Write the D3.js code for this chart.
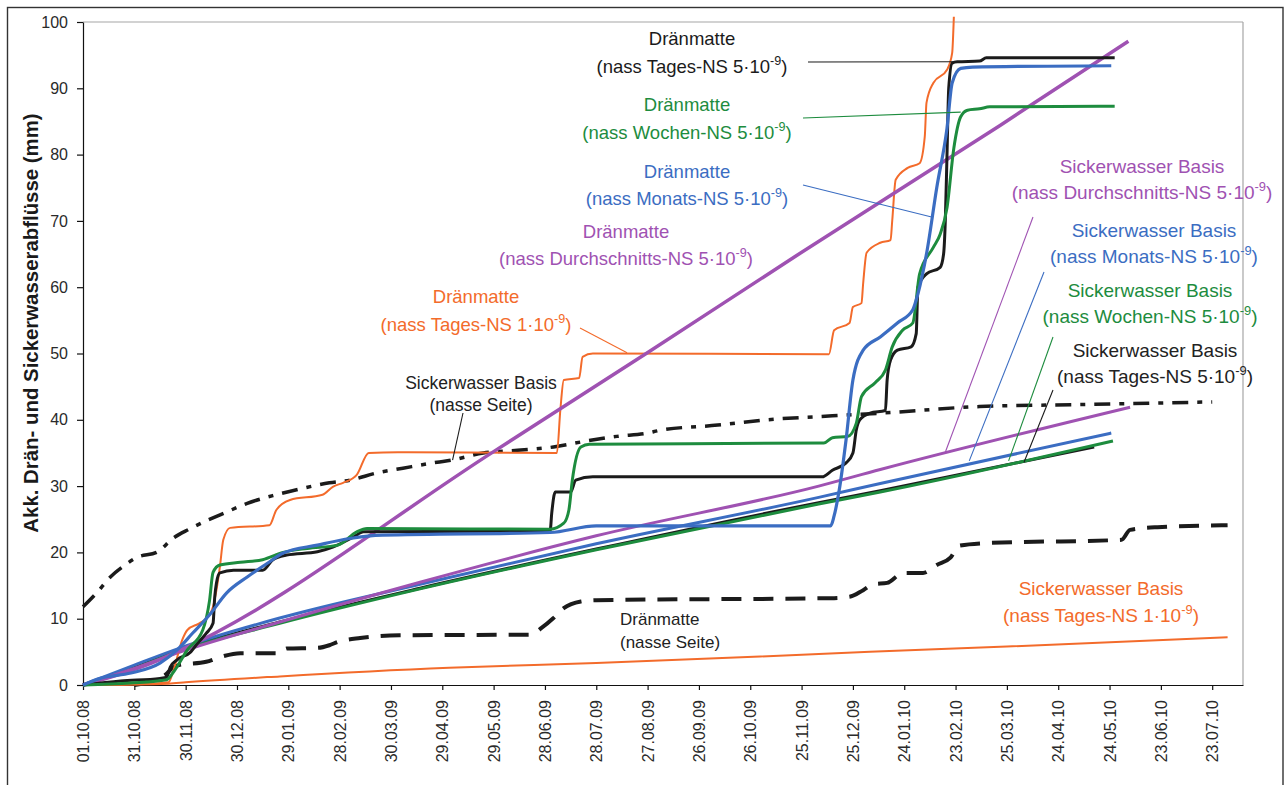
<!DOCTYPE html>
<html>
<head>
<meta charset="utf-8">
<script src="https://cdn.jsdelivr.net/npm/d3@7"></script>
<style>
  body { margin: 0; background: #fff; }
  svg { display: block; font-family: Arial, "Liberation Sans", sans-serif; }
</style>
</head>
<body>
<svg id="chart" width="1287" height="785"></svg>
<script>
// Axis definitions
const startDate = new Date(Date.UTC(2008, 9, 1));
const axisEndDay = 678;
const tickDays = d3.range(0, 661, 30);          // 01.10.08 ... 23.07.10
const yTicks = d3.range(0, 101, 10);
const yTitle = "Akk. Drän- und Sickerwasserabflüsse (mm)";

// Cumulative runoff, [days since 01.10.08, mm]
// Dränmatte (nass Tages-NS 5e-9)
const dmTages5 = [[0,0],[22,0.6],[45,1.0],[49,1.2],[51,2.7],[55,3.8],[63,5.0],[67,6.3],[72,7.8],[76,9.3],[77,13.3],[78,15.4],[80,16.9],[88,17.3],[105,17.3],[111,18.9],[119,19.6],[137,20.1],[146,20.8],[158,22.3],[164,23.1],[273,23.2],[274,26.0],[276,29.1],[285,29.1],[288,30.9],[298,31.4],[432,31.4],[438,32.4],[446,33.5],[450,35.0],[452,38.5],[454,40.0],[460,41.0],[469,41.4],[470,46.0],[472,49.0],[476,50.5],[484,51.0],[487,53.0],[488,60.0],[493,62.0],[501,63.0],[503,65.0],[504,70.0],[505,80.0],[506,90.0],[508,93.8],[511,94.0],[524,94.1],[528,94.6],[603,94.6]];
// Dränmatte (nass Wochen-NS 5e-9)
const dmWochen5 = [[0,0],[28,0.3],[49,0.8],[53,2.0],[61,5.3],[70,8.3],[74,12.8],[76,17.0],[80,18.1],[92,18.5],[105,18.9],[117,20.0],[131,20.6],[149,21.1],[160,23.1],[166,23.6],[273,23.5],[281,24.4],[284,26.4],[286,30.9],[291,35.9],[296,36.3],[433,36.5],[438,37.3],[447,37.5],[452,39.5],[455,43.5],[463,45.6],[469,47.5],[473,51.0],[479,53.5],[485,54.6],[489,62.0],[497,66.0],[501,68.0],[505,72.0],[509,81.0],[513,85.7],[517,86.7],[524,86.9],[530,87.2],[603,87.3]];
// Dränmatte (nass Monats-NS 5e-9)
const dmMonats5 = [[0,0],[10,1.0],[28,1.8],[45,3.3],[55,5.3],[64,7.8],[74,10.6],[84,13.9],[96,16.3],[108,18.4],[117,19.9],[137,21.1],[156,22.1],[175,22.6],[273,23.0],[300,24.0],[437,24.0],[439,25.5],[442,29.4],[446,37.0],[450,46.0],[456,50.5],[466,52.5],[476,54.6],[485,56.6],[488,59.0],[493,65.0],[499,75.0],[505,84.0],[508,90.8],[513,93.0],[520,93.2],[601,93.4]];
// Dränmatte (nass Durchschnitts-NS 5e-9)
const dmDurch5 = [[0,0],[20,1.5],[40,3.3],[55,5.0],[240,35.2],[331,50.3],[416,64.6],[536,84.4],[611,97.1]];
// Dränmatte (nass Tages-NS 1e-9)
const dmTages1 = [[0,0],[30,0.1],[50,0.4],[53,2.3],[58,6.8],[61,8.3],[68,9.3],[73,10.3],[76,11.8],[78,14.3],[80,17.8],[82,21.9],[86,23.7],[109,24.1],[113,26.4],[121,27.9],[140,28.7],[146,29.9],[152,30.5],[160,31.7],[167,35.0],[184,35.1],[277,35.0],[279,41.5],[281,46.0],[290,46.3],[292,49.5],[298,50.0],[436,49.9],[439,53.5],[448,54.6],[450,57.0],[455,57.6],[456,60.6],[458,65.2],[466,66.7],[472,67.1],[473,70.1],[475,76.2],[482,78.0],[489,78.7],[492,82.7],[493,87.8],[497,90.8],[505,92.8],[508,95.3],[509,100.8]];
// Dränmatte (nasse Seite)
const dmNasseSeite = [[30,0],[48,1.5],[52,2.5],[56,3.0],[72,3.5],[80,4.2],[92,4.8],[115,4.8],[119,5.5],[137,5.6],[144,6.0],[149,6.5],[162,7.1],[185,7.5],[262,7.6],[268,8.6],[275,10.1],[281,11.6],[291,12.6],[300,12.8],[437,13.1],[448,13.3],[456,14.3],[462,15.2],[470,15.4],[476,16.5],[478,16.9],[491,16.9],[499,18.1],[507,19.2],[512,21.0],[528,21.4],[607,21.9],[612,23.4],[628,23.8],[669,24.1]];
// Sickerwasser Basis (nasse Seite)
const swNasseSeite = [[0,11.8],[8,13.9],[16,16.3],[23,17.8],[32,19.3],[43,20.0],[53,22.2],[62,23.5],[84,26.1],[96,27.4],[113,28.7],[129,29.7],[144,30.5],[156,30.9],[172,32.0],[187,32.7],[207,33.6],[215,33.9],[234,35.0],[254,35.4],[275,35.9],[292,36.7],[312,37.5],[330,38.0],[337,38.4],[371,39.2],[400,40.0],[438,40.6],[466,41.0],[524,42.0],[583,42.3],[660,42.7]];
// Sickerwasser Basis (nass ... 5e-9)
const swTages5 = [[0,0],[30,2.6],[57,5.3],[115,9.5],[197,14.6],[300,20.5],[430,27.5],[466,29.3],[591,35.9]];
const swWochen5 = [[0,0],[30,2.5],[57,5.2],[115,9.3],[197,14.5],[300,20.4],[430,27.3],[466,29.1],[602,36.8]];
const swMonats5 = [[0,0],[30,3.0],[57,5.6],[115,10.1],[197,15.2],[300,21.3],[430,28.3],[466,30.4],[601,38.0]];
const swDurch5 = [[0,0],[30,2.5],[57,5.0],[115,9.5],[197,15.5],[300,22.5],[430,30.0],[466,32.5],[612,41.9]];
// Sickerwasser Basis (nass Tages-NS 1e-9)
const swTages1 = [[0,0],[50,0.2],[60,0.4],[115,1.3],[214,2.6],[300,3.3],[460,5.0],[540,5.8],[669,7.2]];

const C = {
  black: "#1b1b1b", green: "#1d8c3e", blue: "#3b6dc2",
  purple: "#9f52b2", orange: "#f36b2b", grid: "#a6a6a6"
};

const svg = d3.select("#chart");
const plot = { left: 83, right: 1243, top: 22, bottom: 685 };

const toDate = d => d3.utcDay.offset(startDate, d);
const x = d3.scaleUtc()
  .domain([startDate, toDate(axisEndDay)])
  .range([plot.left, plot.right]);
const y = d3.scaleLinear().domain([0, 100]).range([plot.bottom, plot.top]);

// outer frame
svg.append("rect").attr("x", 7.5).attr("y", 7.5).attr("width", 1275.5).attr("height", 820)
  .attr("fill", "#fff").attr("stroke", "#333").attr("stroke-width", 1.4);

// plot frame: gridline at 100 and right edge
svg.append("line").attr("x1", plot.left).attr("x2", plot.right)
  .attr("y1", y(100)).attr("y2", y(100)).attr("stroke", C.grid).attr("stroke-width", 1.2);
svg.append("line").attr("x1", plot.right).attr("x2", plot.right)
  .attr("y1", y(100)).attr("y2", y(0)).attr("stroke", C.grid).attr("stroke-width", 1.2);

// axes
const xAxis = svg.append("g").attr("transform", `translate(0,${plot.bottom})`)
  .call(d3.axisBottom(x).tickValues(tickDays.map(toDate))
    .tickFormat(d3.utcFormat("%d.%m.%y")).tickSize(5).tickSizeOuter(0));
xAxis.selectAll("text")
  .attr("transform", "rotate(-90)")
  .attr("text-anchor", "end")
  .attr("x", -15).attr("y", 0).attr("dy", "0.35em");

const yAxis = svg.append("g").attr("transform", `translate(${plot.left},0)`)
  .call(d3.axisLeft(y).tickValues(yTicks).tickSize(6).tickPadding(9).tickSizeOuter(0));

[xAxis, yAxis].forEach(g => {
  g.select(".domain").attr("stroke", "#111").attr("stroke-width", 1.2);
  g.selectAll(".tick line").attr("stroke", "#111").attr("stroke-width", 1.2);
  g.selectAll(".tick text").attr("fill", "#2a2a2a")
    .style("font-size", "16px").style("font-family", "Arial, 'Liberation Sans', sans-serif");
});

svg.append("text")
  .attr("transform", `translate(38,323) rotate(-90)`)
  .attr("text-anchor", "middle")
  .style("font-size", "20.4px").style("font-weight", "bold").attr("fill", "#1a1a1a")
  .text(yTitle);

// series
const line = d3.line()
  .x(d => x(toDate(d[0])))
  .y(d => y(d[1]))
  .curve(d3.curveMonotoneX);

const series = [
  { data: swNasseSeite, color: C.black, width: 3.5, dash: "16,9,5,9" },
  { data: dmNasseSeite, color: C.black, width: 4, dash: "20,12" },
  { data: swTages1, color: C.orange, width: 2 },
  { data: swTages5, color: C.black, width: 3 },
  { data: swWochen5, color: C.green, width: 3 },
  { data: swMonats5, color: C.blue, width: 3 },
  { data: swDurch5, color: C.purple, width: 3 },
  { data: dmTages1, color: C.orange, width: 2 },
  { data: dmDurch5, color: C.purple, width: 3.5 },
  { data: dmTages5, color: C.black, width: 3 },
  { data: dmWochen5, color: C.green, width: 3 },
  { data: dmMonats5, color: C.blue, width: 3.2 }
];

svg.append("g").selectAll("path").data(series).join("path")
  .attr("d", s => line(s.data))
  .attr("fill", "none")
  .attr("stroke", s => s.color)
  .attr("stroke-width", s => s.width)
  .attr("stroke-dasharray", s => s.dash || null)
  .attr("stroke-linejoin", "round");

// annotations: label lines (text, superscript), anchor, leader from (sx,sy) to a data point
const labels = [
  { color: C.black, x: 692, y: [45, 73], size: 18.5, lines: ["Dränmatte", ["(nass Tages-NS 5·10", "-9", ")"]], leader: [808, 62, 510, 94.0] },
  { color: C.green, x: 687, y: [111, 139], size: 18.5, lines: ["Dränmatte", ["(nass Wochen-NS 5·10", "-9", ")"]], leader: [803, 118, 513, 86.4] },
  { color: C.blue, x: 687, y: [178, 205], size: 18.5, lines: ["Dränmatte", ["(nass Monats-NS 5·10", "-9", ")"]], leader: [803, 185, 496, 70.6] },
  { color: C.purple, x: 626, y: [238, 265], size: 18.5, lines: ["Dränmatte", ["(nass Durchschnitts-NS 5·10", "-9", ")"]] },
  { color: C.orange, x: 476, y: [303, 331], size: 18.5, lines: ["Dränmatte", ["(nass Tages-NS 1·10", "-9", ")"]], leader: [580, 328, 318, 50.1] },
  { color: "#222", x: 481, y: [389, 411], size: 17.5, lines: ["Sickerwasser Basis", "(nasse Seite)"], leader: [463, 413, 216, 33.9] },
  { color: "#222", x: 620, y: [625, 648], size: 17, anchor: "start", lines: ["Dränmatte", "(nasse Seite)"] },
  { color: C.purple, x: 1142, y: [173, 199], size: 19, lines: ["Sickerwasser Basis", ["(nass Durchschnitts-NS 5·10", "-9", ")"]], leader: [1033, 217, 504, 35.1] },
  { color: C.blue, x: 1154, y: [237, 263], size: 19, lines: ["Sickerwasser Basis", ["(nass Monats-NS 5·10", "-9", ")"]], leader: [1044, 272, 518, 33.8] },
  { color: C.green, x: 1150, y: [297, 323], size: 19, lines: ["Sickerwasser Basis", ["(nass Wochen-NS 5·10", "-9", ")"]], leader: [1053, 337, 541, 33.8] },
  { color: "#222", x: 1155, y: [357, 383], size: 19, lines: ["Sickerwasser Basis", ["(nass Tages-NS 5·10", "-9", ")"]], leader: [1053, 390, 550, 33.6] },
  { color: C.orange, x: 1101, y: [595, 622], size: 19, lines: ["Sickerwasser Basis", ["(nass Tages-NS 1·10", "-9", ")"]] }
];

const ann = svg.append("g");
labels.forEach(l => {
  if (l.leader) {
    const [sx, sy, d, v] = l.leader;
    ann.append("line").attr("x1", sx).attr("y1", sy)
      .attr("x2", x(toDate(d))).attr("y2", y(v))
      .attr("stroke", l.color === "#222" ? C.black : l.color).attr("stroke-width", 1.1);
  }
  l.lines.forEach((t, i) => {
    const txt = ann.append("text")
      .attr("x", l.x).attr("y", l.y[i])
      .attr("text-anchor", l.anchor || "middle")
      .attr("fill", l.color)
      .style("font-size", l.size + "px");
    if (typeof t === "string") {
      txt.text(t);
    } else {
      txt.append("tspan").text(t[0]);
      txt.append("tspan").attr("dy", -8).style("font-size", (l.size * 0.68) + "px").text(t[1]);
      txt.append("tspan").attr("dy", 8).text(t[2]);
    }
  });
});
</script>
</body>
</html>
